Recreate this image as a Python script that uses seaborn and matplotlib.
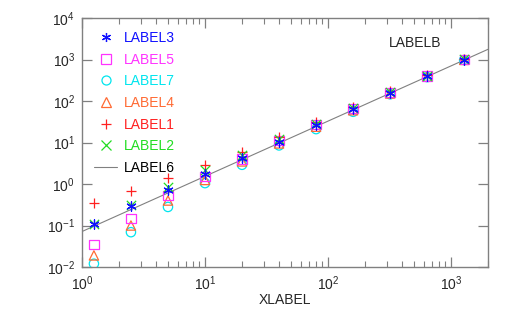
import matplotlib
matplotlib.use("Agg")
import matplotlib.pyplot as plt
import seaborn as sns
import numpy as np
from matplotlib.lines import Line2D
import matplotlib.ticker as mticker

sns.set_style("white")
plt.rcParams['font.family'] = ['Liberation Sans', 'DejaVu Sans']
plt.rcParams['mathtext.fontset'] = 'custom'
plt.rcParams['mathtext.rm'] = 'Liberation Sans'
plt.rcParams['mathtext.it'] = 'Liberation Sans'

x_vals = [1.25, 2.5, 5, 10, 20, 40, 80, 160, 320, 640, 1280]
label3 = [0.11, 0.30, 0.72, 1.74, 4.2, 10.5, 26, 64, 160, 400, 1000]
label2 = [0.11, 0.32, 0.87, 2.2, 5.0, 12, 28, 68, 165, 410, 1010]
label1 = [0.35, 0.66, 1.37, 2.9, 6.0, 13.5, 31, 72, 175, 420, 1030]
label5 = [0.035, 0.15, 0.52, 1.5, 4.0, 11, 27, 66, 162, 400, 1000]
label4 = [0.019, 0.10, 0.40, 1.25, 3.5, 9.5, 24, 60, 152, 385, 980]
label7 = [0.012, 0.069, 0.28, 1.05, 2.9, 8.5, 21, 55, 145, 375, 970]
line_x = [1, 2000]
line_y = [0.0716, 1760]

series = {
    'LABEL7': (label7, 'o', '#00e5ee', True),
    'LABEL4': (label4, '^', '#ff6a33', True),
    'LABEL5': (label5, 's', '#ff33ff', True),
    'LABEL1': (label1, '+', '#ff2020', False),
    'LABEL2': (label2, 'x', '#22dd22', False),
    'LABEL3': (label3, (6, 2, 0), '#1010ff', False),
}
legend_order = ['LABEL3', 'LABEL5', 'LABEL7', 'LABEL4', 'LABEL1', 'LABEL2']

fig = plt.figure(figsize=(5.11, 3.09), dpi=100)
ax = fig.add_axes([82/511, 42/309, (488-82)/511, (267-18)/309])

sns.lineplot(x=line_x, y=line_y, color='#808080', lw=0.8, ax=ax, zorder=1)

for name, (vals, mk, col, hollow) in series.items():
    if hollow:
        sns.scatterplot(x=x_vals, y=vals, marker=mk, s=45, facecolor='none',
                        edgecolor=col, linewidth=0.9, ax=ax, zorder=3)
    else:
        sns.scatterplot(x=x_vals, y=vals, marker=mk, s=45, color=col,
                        linewidth=0.9, ax=ax, zorder=3)

ax.set_xscale('log')
ax.set_yscale('log')
ax.set_xlim(1, 2000)
ax.set_ylim(0.01, 10000)

ax.xaxis.set_major_locator(mticker.LogLocator(base=10, numticks=10))
ax.xaxis.set_minor_locator(mticker.LogLocator(base=10, subs=np.arange(2, 10), numticks=20))
ax.xaxis.set_minor_formatter(mticker.NullFormatter())
ax.yaxis.set_major_locator(mticker.LogLocator(base=10, numticks=10))
ax.yaxis.set_minor_locator(mticker.NullLocator())

for sp in ax.spines.values():
    sp.set_color('#808080')
    sp.set_linewidth(1.0)
ax.tick_params(which='major', direction='in', length=7, width=0.9, color='#808080',
               top=True, right=True, bottom=True, left=True, labelsize=10, pad=5)
ax.tick_params(which='minor', direction='in', length=4, width=0.8, color='#808080',
               top=True, bottom=True)
ax.set_xlabel('XLABEL', fontsize=10, labelpad=0)
ax.set_ylabel('')

handles = []
for name in legend_order:
    vals, mk, col, hollow = series[name]
    handles.append(Line2D([], [], linestyle='none', marker=mk, markersize=6.5,
                          markerfacecolor='none' if hollow else col,
                          markeredgecolor=col, markeredgewidth=0.9, label=name))
handles.append(Line2D([], [], color='#808080', lw=0.8, label='LABEL6'))
leg = ax.legend(handles=handles, loc='upper left', frameon=False, fontsize=10,
                handlelength=1.6, handletextpad=0.5, labelspacing=0.55,
                bbox_to_anchor=(0.017, 0.97), borderaxespad=0.0)
leg.set_zorder(10)
for txt, name in zip(leg.get_texts(), legend_order + ['LABEL6']):
    txt.set_color(series[name][2] if name in series else 'black')

fig.text(415/511, 1 - 43/309, 'LABELB', fontsize=10, ha='center', va='center')

fig.savefig('out.png', dpi=100)
